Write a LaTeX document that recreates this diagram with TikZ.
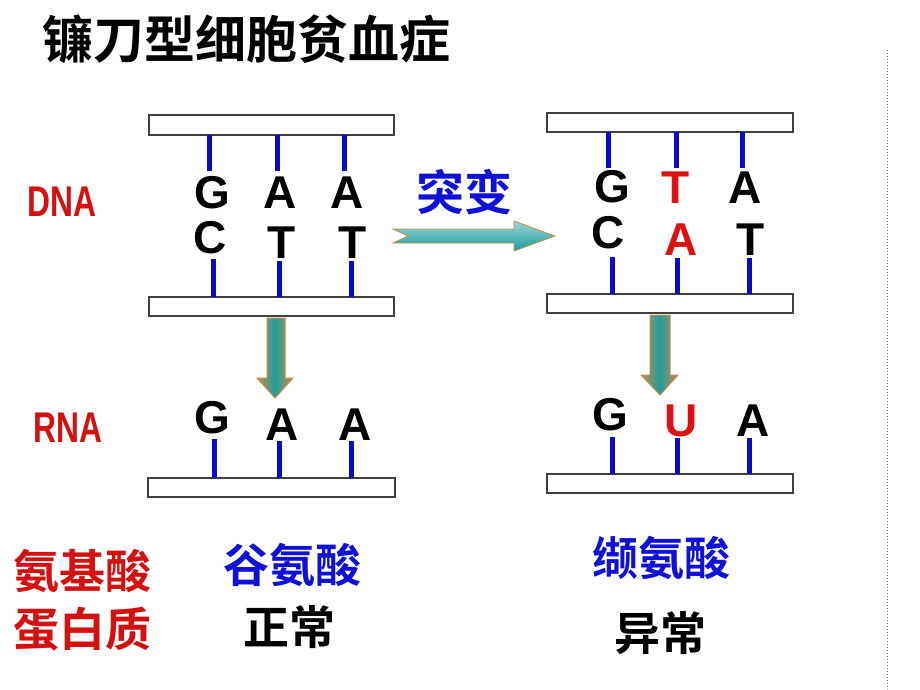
\documentclass[tikz,border=0pt]{standalone}
\usepackage{fontspec}
\setmainfont{Liberation Sans}
\newfontfamily\cjk{Noto Sans CJK SC Bold}
\definecolor{bondblue}{HTML}{0A0ACC}
\definecolor{basered}{HTML}{DD1111}
\definecolor{labelred}{HTML}{D41010}
\definecolor{namblue}{HTML}{1010D8}
\definecolor{arrowteal}{HTML}{1E9E9E}
\definecolor{arrowedge}{HTML}{C98A4A}
\tikzset{
  strand/.style={draw=black!75, line width=1.2pt, fill=white},
  bond/.style={draw=bondblue, line width=5pt},
  base/.style={inner sep=0pt, font=\bfseries\fontsize{46}{46}\selectfont},
  mutbase/.style={base, text=basered},
  molname/.style={inner sep=0pt, xscale=0.74, text=labelred, font=\bfseries\fontsize{43}{43}\selectfont},
  cjktext/.style={inner sep=0pt, font=\cjk\fontsize{46}{46}\selectfont},
  flowarrow/.style={draw=arrowedge, line width=1pt, left color=arrowedge, right color=arrowedge, middle color=arrowteal}
}
\begin{document}
\begin{tikzpicture}[x=1pt,y=-1pt]
\useasboundingbox (0,0) rectangle (920,690);

% title
\node[cjktext, font=\cjk\fontsize{51}{51}\selectfont] (title) at (246,39) {镰刀型细胞贫血症};
\draw[black!50, dotted, line width=1pt] (887,50) -- (887,690);

% row labels
\node[molname] (dna) at (62,202) {DNA};
\node[molname] (rna) at (68,428) {RNA};

% normal DNA
\draw[strand] (149,115) rectangle (394,135);
\draw[strand] (149,297) rectangle (394,316);
\node[base] (g1) at (212,193) {G};
\node[base] (a1) at (280,193) {A};
\node[base] (a2) at (347,193) {A};
\node[base] (c1) at (210,238) {C};
\node[base] (t1) at (282,243) {T};
\node[base] (t2) at (353,243) {T};
\draw[bond] (209,135) -- (209,171);
\draw[bond] (277,135) -- (277,171);
\draw[bond] (344,135) -- (344,171);
\draw[bond] (213,259) -- (213,297);
\draw[bond] (279,261) -- (279,297);
\draw[bond] (351,261) -- (351,297);

% mutated DNA
\draw[strand] (547,113) rectangle (793,132);
\draw[strand] (547,294) rectangle (793,313);
\node[base] (g2) at (612,187) {G};
\node[mutbase] (t3) at (676,188) {T};
\node[base] (a3) at (745,188) {A};
\node[base] (c2) at (608,233) {C};
\node[mutbase] (a4) at (681,240) {A};
\node[base] (t4) at (751,240) {T};
\draw[bond] (608,132) -- (608,168);
\draw[bond] (676,132) -- (676,168);
\draw[bond] (742,132) -- (742,168);
\draw[bond] (612,257) -- (612,294);
\draw[bond] (677,258) -- (677,294);
\draw[bond] (749,258) -- (749,294);

% normal RNA
\draw[strand] (148,478) rectangle (395,497);
\node[base] (rg1) at (212,418) {G};
\node[base] (ra1) at (282,425) {A};
\node[base] (ra2) at (355,425) {A};
\draw[bond] (214,439) -- (214,478);
\draw[bond] (279,441) -- (279,478);
\draw[bond] (351,441) -- (351,478);

% mutated RNA
\draw[strand] (547,474) rectangle (793,493);
\node[base] (rg2) at (610,415) {G};
\node[mutbase] (ru) at (681,421) {U};
\node[base] (ra3) at (753,421) {A};
\draw[bond] (612,437) -- (612,474);
\draw[bond] (677,438) -- (677,474);
\draw[bond] (749,438) -- (749,474);

% mutation arrow
\node[cjktext, text=namblue, font=\cjk\fontsize{48}{48}\selectfont] (mut) at (464,192) {突变};
\draw[draw=arrowedge, line width=0.8pt, top color=arrowteal!45!white, bottom color=arrowteal]
  (393,229) -- (514,229) -- (514,221) -- (555,236) -- (514,251) -- (514,243)
  -- (393,243) -- (408,236) -- cycle;

% transcription arrows
\draw[flowarrow] (267,318) -- (285,318) -- (285,378) -- (293,378) -- (275,398)
  -- (257,378) -- (267,378) -- cycle;
\draw[flowarrow] (650,315) -- (670,315) -- (670,375) -- (678,375) -- (660,395)
  -- (641,375) -- (650,375) -- cycle;

% amino acids and proteins
\node[cjktext, text=labelred] (aa) at (82,571) {氨基酸};
\node[cjktext, text=labelred] (prot) at (82,629) {蛋白质};
\node[cjktext, text=namblue] (glu) at (292,565) {谷氨酸};
\node[cjktext] (normal) at (289,627) {正常};
\node[cjktext, text=namblue] (val) at (661,558) {缬氨酸};
\node[cjktext] (abnormal) at (660,633) {异常};
\end{tikzpicture}
\end{document}
